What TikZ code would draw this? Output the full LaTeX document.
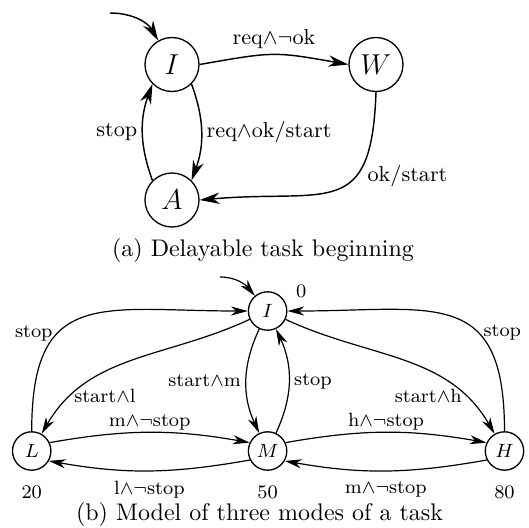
\documentclass[tikz,border=0pt]{standalone}
\usetikzlibrary{arrows.meta}
\begin{document}
\begin{tikzpicture}[x=0.41667pt,y=0.41667pt,
  st/.style={circle,draw,line width=0.55pt,inner sep=0pt},
  bigst/.style={st,minimum size=22.5pt,font=\fontsize{12.5}{14}\selectfont},
  smlst/.style={st,minimum size=16pt,font=\footnotesize},
  ea/.style={line width=0.6pt,-{Stealth[length=8.3pt,width=4.7pt,inset=2.6pt]}},
  eb/.style={line width=0.5pt,-{Stealth[length=7pt,width=3.8pt,inset=2.2pt]}},
  la/.style={font=\small,inner sep=2pt},
  lb/.style={font=\footnotesize,inner sep=2pt},
  captxt/.style={font=\normalsize,inner sep=0pt}]
\useasboundingbox (0,0) rectangle (529,-527);
% ---------- (a) ----------
\node[bigst] (I1) at (172,-64.5) {$I$};
\node[bigst] (W) at (376,-64.5) {$W$};
\node[bigst] (A) at (172,-200) {$A$};
\coordinate (s1) at (110,-13);
\draw[ea] (s1) to[out=0,in=120] (I1);
\draw[ea] (I1.east) to[out=10,in=170,looseness=1.3]
  node[la,above] (l1) {req$\wedge\neg$ok} (W.west);
\draw[ea] (I1.south east) to[bend left=20]
  node[la,right] (l2) {req$\wedge$ok/start} (A.north east);
\draw[ea] (A.north west) to[bend left=20]
  node[la,left] (l3) {stop} (I1.south west);
\draw[ea] (W.south) to[out=-92,in=5,looseness=1.6]
  node[la,pos=0.28,anchor=north west,yshift=3pt] (l4) {ok/start} (A.east);
\node[captxt] (capa) at (263,-250) {(a) Delayable task beginning};
% ---------- (b) ----------
\node[smlst] (bI) at (267.6,-311) {$I$};
\node[smlst] (L) at (31.7,-451) {$L$};
\node[smlst] (M) at (267.6,-451) {$M$};
\node[smlst] (H) at (504.5,-451) {$H$};
\coordinate (s2) at (220,-277);
\draw[eb] (s2) to[out=0,in=130] (bI);
\node[lb,inner sep=0pt] (n0) at (301.3,-291.7) {0};
\node[lb,inner sep=0pt,anchor=north] (n20) at ([yshift=-5.8pt]L.south) {20};
\node[lb,inner sep=0pt,anchor=north] (n50) at ([yshift=-5.8pt]M.south) {50};
\node[lb,inner sep=0pt,anchor=north] (n80) at ([yshift=-5.8pt]H.south) {80};
\draw[eb] (L.north) to[out=90,in=180,looseness=1.5]
  node[lb,pos=0.35,left] (b1) {stop} (bI.west);
\draw[eb] (bI) to[out=205,in=60]
  node[lb,pos=0.81,anchor=west,inner sep=1pt] (b2) {start$\wedge$l} (L);
\draw[eb] (bI) to[bend right=25]
  node[lb,left] (b3) {start$\wedge$m} (M);
\draw[eb] (M) to[bend right=25]
  node[lb,right] (b4) {stop} (bI);
\draw[eb] (bI) to[out=-25,in=120]
  node[lb,pos=0.81,anchor=east,inner sep=1pt] (b5) {start$\wedge$h} (H);
\draw[eb] (H.north) to[out=90,in=0,looseness=1.5]
  node[lb,pos=0.35,right] (b6) {stop} (bI.east);
\draw[eb] (L.25) to[out=10,in=170]
  node[lb,above,inner sep=0.6pt] (b7) {m$\wedge\neg$stop} (M.155);
\draw[eb] (M.207) to[out=190,in=-10]
  node[lb,below,inner sep=4.2pt] (b8) {l$\wedge\neg$stop} (L.-30);
\draw[eb] (M.25) to[out=10,in=170]
  node[lb,above,inner sep=0.6pt] (b9) {h$\wedge\neg$stop} (H.155);
\draw[eb] (H.207) to[out=190,in=-10]
  node[lb,below,inner sep=4.2pt] (b10) {m$\wedge\neg$stop} (M.-30);
\node[captxt] (capb) at (259.5,-514.5) {(b) Model of three modes of a task};
\end{tikzpicture}
\end{document}
